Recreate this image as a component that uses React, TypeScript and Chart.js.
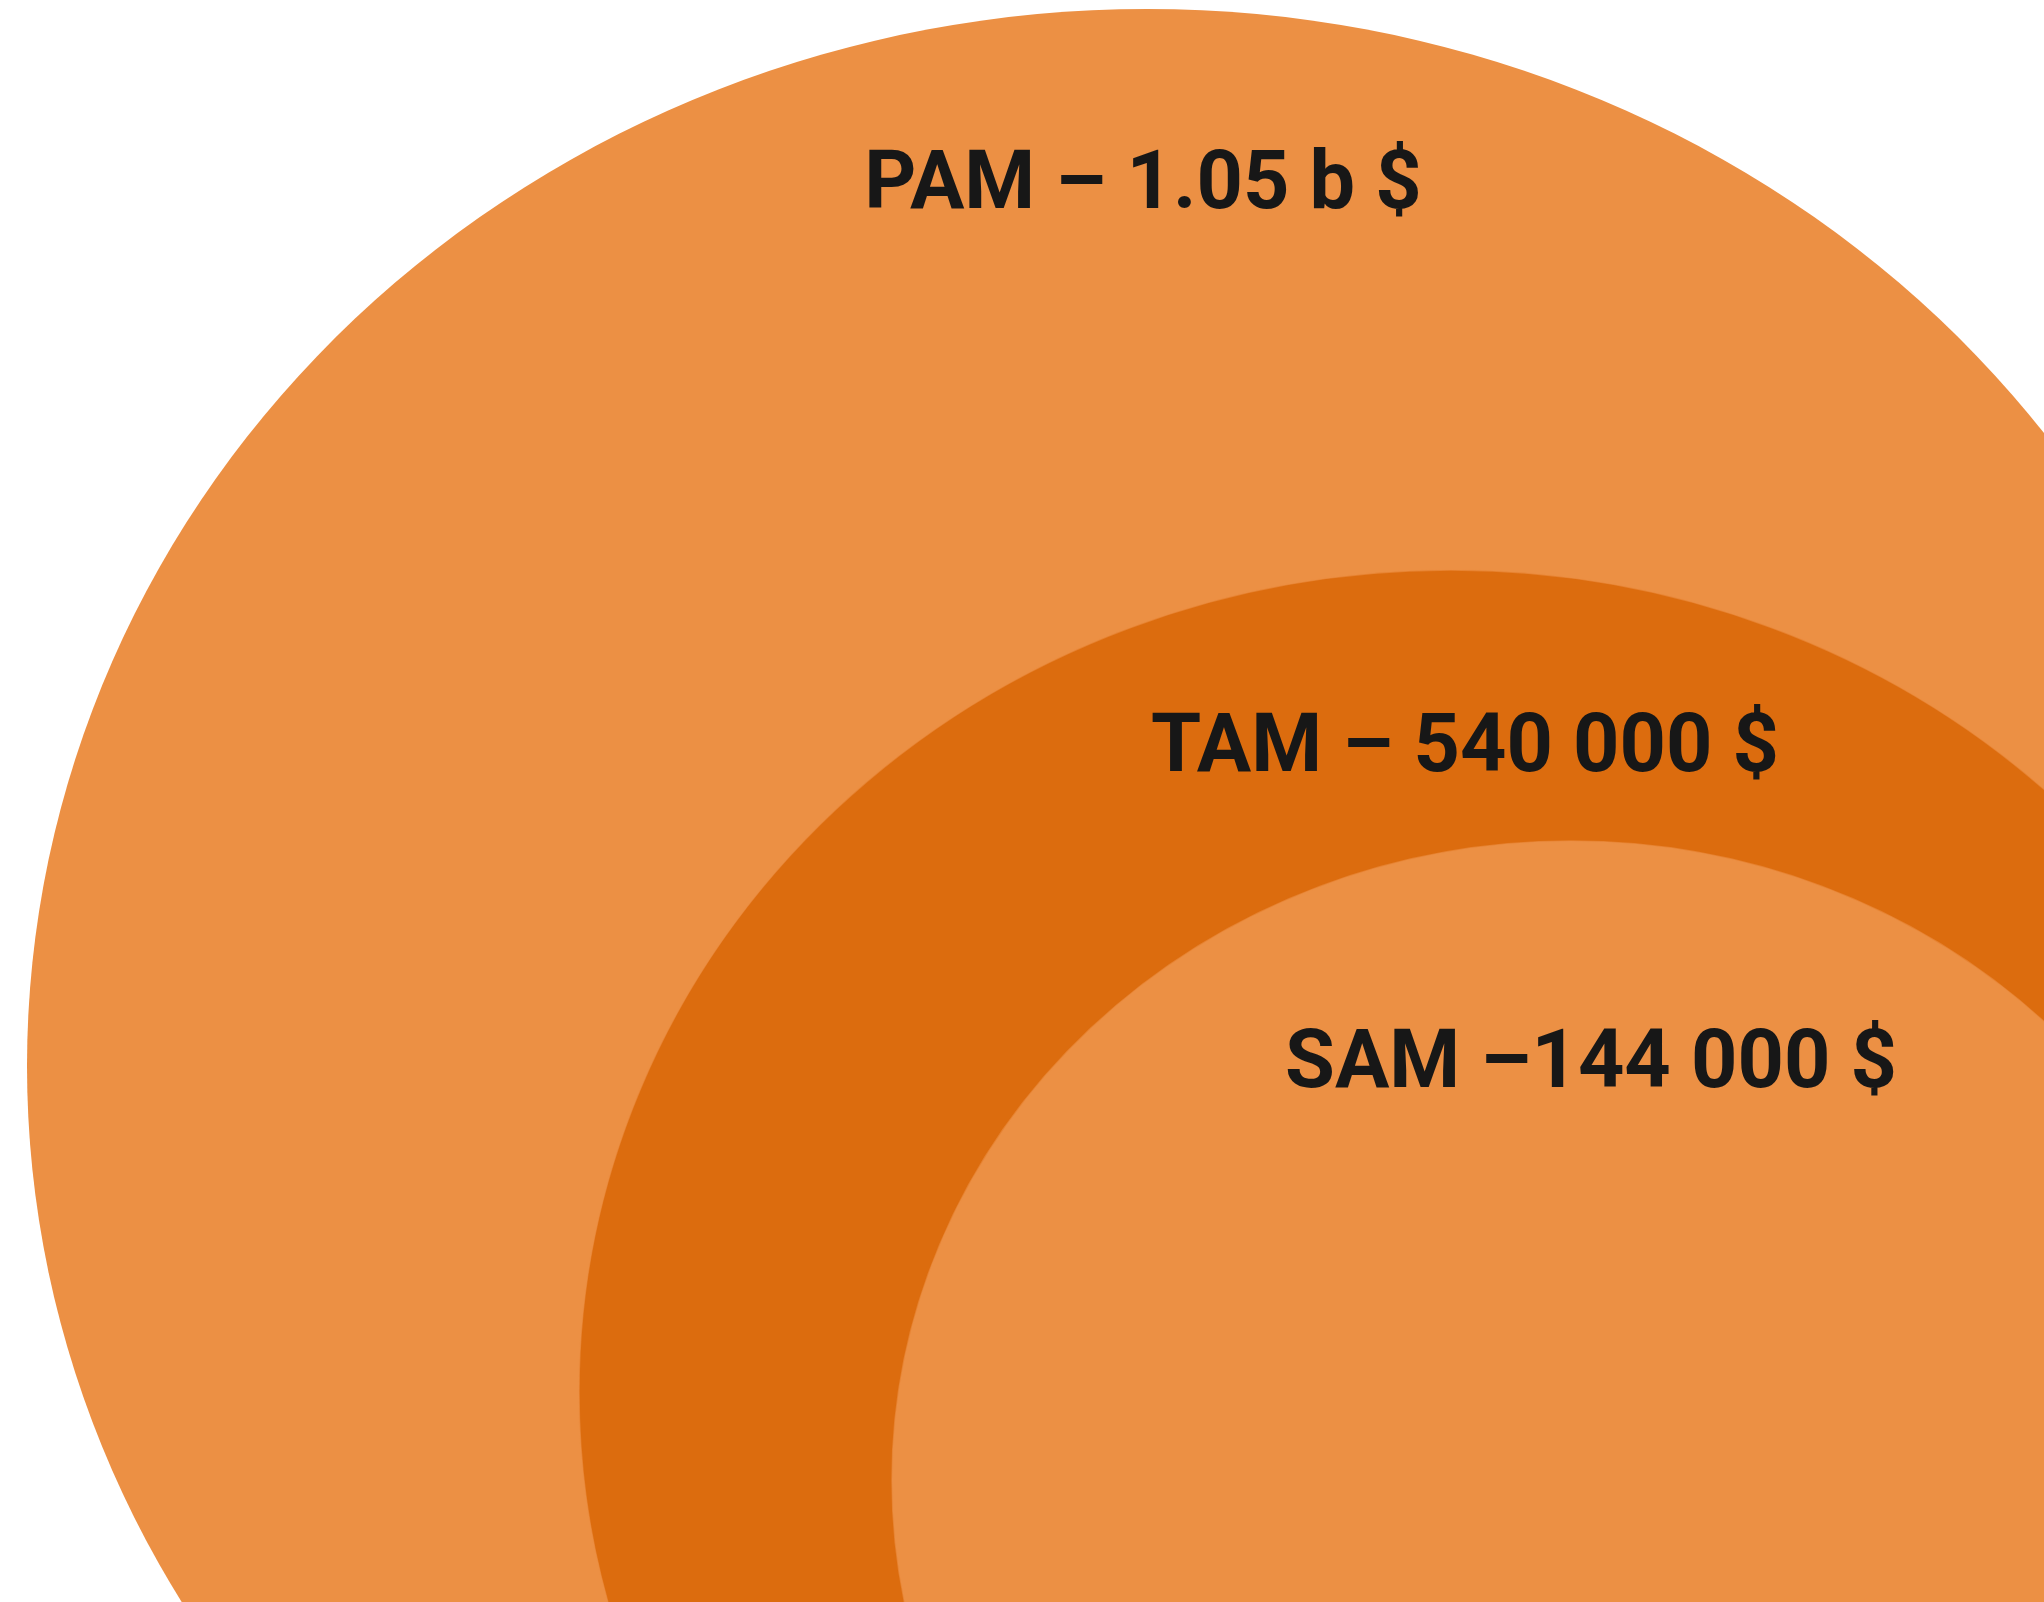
import React, { useEffect, useRef } from "react";
import { Chart, registerables } from "chart.js";

Chart.register(...registerables);

// Market tiers (outer to inner)
const tierLabels = ["PAM – 1.05 b $", "TAM – 540 000 $", "SAM –144 000 $"];
const tierValues = [1050000000, 540000, 144000];
// Ellipse geometry in axis units (axis spans the canvas: x 0..2044, y 0..1602 top-down)
const centerX = [1147, 1451, 1571];
const centerY = [1066, 1392, 1480];
const radiusX = [1120, 872, 679];
const radiusY = [1057, 822, 639];
// Label anchors in axis units (baseline)
const labelX = [1143, 1465, 1591];
const labelY = [208, 771, 1087];
const tierColors = ["#EC9044", "#DC6C0E", "#EC9044"];

const W = 2044;
const H = 1602;

const ellipsePlugin = {
  id: "ellipses",
  beforeDatasetsDraw(chart: any) {
    const { ctx, scales } = chart;
    const xs = scales.x;
    const ys = scales.y;
    ctx.save();
    for (let i = 0; i < centerX.length; i++) {
      const cx = xs.getPixelForValue(centerX[i]);
      const cy = ys.getPixelForValue(centerY[i]);
      const rx = Math.abs(xs.getPixelForValue(centerX[i] + radiusX[i]) - cx);
      const ry = Math.abs(ys.getPixelForValue(centerY[i] + radiusY[i]) - cy);
      ctx.beginPath();
      ctx.ellipse(cx, cy, rx, ry, 0, 0, Math.PI * 2);
      ctx.fillStyle = tierColors[i];
      ctx.fill();
      if (i > 0) {
        ctx.lineWidth = 1.5;
        ctx.strokeStyle = "rgba(236,144,68,0.6)";
        ctx.stroke();
      }
    }
    ctx.restore();
  },
  afterDatasetsDraw(chart: any) {
    const { ctx, scales } = chart;
    ctx.save();
    ctx.font = "bold 81px Roboto";
    ctx.fillStyle = "#171717";
    ctx.textAlign = "center";
    ctx.textBaseline = "alphabetic";
    for (let i = 0; i < tierLabels.length; i++) {
      ctx.fillText(
        tierLabels[i],
        scales.x.getPixelForValue(labelX[i]),
        scales.y.getPixelForValue(labelY[i])
      );
    }
    ctx.restore();
  },
};

export default function App() {
  const canvasRef = useRef<HTMLCanvasElement | null>(null);

  useEffect(() => {
    let chart: Chart | null = null;
    let cancelled = false;
    const make = () => {
      if (cancelled || !canvasRef.current) return;
      chart = new Chart(canvasRef.current, {
        type: "scatter",
        data: {
          datasets: [
            {
              label: "Market",
              data: centerX.map((x, i) => ({ x, y: centerY[i], v: tierValues[i] })),
              pointRadius: 0,
              pointHoverRadius: 0,
            },
          ],
        },
        options: {
          animation: false,
          responsive: false,
          maintainAspectRatio: false,
          layout: { padding: 0 },
          plugins: {
            legend: { display: false },
            tooltip: { enabled: false },
          },
          scales: {
            x: { type: "linear", min: 0, max: W, display: false },
            y: { type: "linear", min: 0, max: H, reverse: true, display: false },
          },
        },
        plugins: [ellipsePlugin],
      });
    };
    const fonts: any = (document as any).fonts;
    if (fonts && fonts.load) {
      fonts.load("bold 81px Roboto").then(make, make);
    } else {
      make();
    }
    return () => {
      cancelled = true;
      if (chart) chart.destroy();
    };
  }, []);

  return (
    <div style={{ position: "fixed", left: 0, top: 0, width: W, height: H, background: "#ffffff" }}>
      <canvas ref={canvasRef} width={W} height={H} style={{ width: W, height: H, display: "block" }} />
    </div>
  );
}
